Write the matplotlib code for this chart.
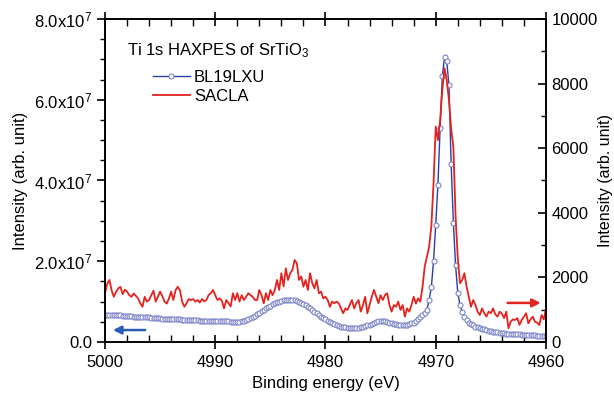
import matplotlib
matplotlib.use("Agg")
import matplotlib.pyplot as plt
from matplotlib.ticker import MultipleLocator, FuncFormatter
import numpy as np

plt.rcParams["font.family"] = ["Liberation Sans", "DejaVu Sans"]
plt.rcParams["mathtext.default"] = "regular"

# binding energy grid, 5000 -> 4960 eV in 0.2 eV steps
energy = np.linspace(5000, 4960, 201)

# BL19LXU intensity (x1e7, left axis)
bl19 = [
    0.68, 0.68, 0.67, 0.67, 0.67, 0.66, 0.66, 0.66, 0.65, 0.65,
    0.65, 0.64, 0.64, 0.63, 0.63, 0.63, 0.62, 0.62, 0.62, 0.61,
    0.61, 0.60, 0.60, 0.60, 0.59, 0.59, 0.58, 0.58, 0.58, 0.57,
    0.57, 0.57, 0.56, 0.56, 0.56, 0.55, 0.55, 0.55, 0.55, 0.54,
    0.54, 0.54, 0.54, 0.53, 0.53, 0.53, 0.53, 0.53, 0.52, 0.52,
    0.52, 0.52, 0.52, 0.51, 0.51, 0.51, 0.51, 0.50, 0.50, 0.50,
    0.50, 0.50, 0.51, 0.52, 0.54, 0.56, 0.59, 0.62, 0.65, 0.69,
    0.72, 0.76, 0.80, 0.83, 0.87, 0.90, 0.93, 0.96, 0.98, 1.00,
    1.02, 1.03, 1.04, 1.05, 1.05, 1.04, 1.03, 1.02, 1.00, 0.97,
    0.94, 0.91, 0.87, 0.83, 0.79, 0.75, 0.71, 0.67, 0.63, 0.60,
    0.56, 0.53, 0.50, 0.47, 0.44, 0.42, 0.40, 0.38, 0.37, 0.36,
    0.35, 0.34, 0.34, 0.34, 0.34, 0.35, 0.36, 0.37, 0.39, 0.41,
    0.43, 0.45, 0.47, 0.49, 0.51, 0.52, 0.52, 0.51, 0.50, 0.48,
    0.47, 0.45, 0.44, 0.43, 0.42, 0.42, 0.42, 0.43, 0.44, 0.46,
    0.48, 0.52, 0.56, 0.61, 0.66, 0.72, 0.80, 1.04, 1.35, 2.00,
    2.90, 3.90, 5.30, 6.60, 7.05, 6.95, 6.36, 4.40, 2.95, 1.90,
    1.22, 0.92, 0.74, 0.62, 0.54, 0.48, 0.44, 0.41, 0.38, 0.36,
    0.34, 0.32, 0.31, 0.29, 0.28, 0.27, 0.26, 0.25, 0.24, 0.23,
    0.22, 0.22, 0.21, 0.21, 0.20, 0.20, 0.19, 0.19, 0.19, 0.18,
    0.18, 0.18, 0.17, 0.17, 0.17, 0.17, 0.16, 0.16, 0.16, 0.16,
    0.16,
]

# SACLA intensity (right axis)
sacla = [
    1500, 1800, 1920, 1600, 1400, 1550, 1660, 1710, 1480, 1620,
    1560, 1450, 1400, 1500, 1430, 1350, 1200, 1090, 1400, 1250,
    1300, 1450, 1590, 1250, 1400, 1560, 1420, 1250, 1190, 1350,
    1560, 1300, 1600, 1710, 1600, 1250, 1090, 1200, 1330, 1300,
    1330, 1250, 1300, 1220, 1330, 1260, 1300, 1455, 1510, 1610,
    1450, 1300, 1350, 1280, 1040, 1300, 1200, 1100, 1510, 1300,
    1510, 1250, 1450, 1300, 1400, 1510, 1450, 1400, 1300, 1300,
    1610, 1450, 1200, 1510, 1300, 1610, 1450, 1600, 1920, 1610,
    2130, 1720, 2280, 1920, 2130, 2230, 2540, 2440, 1920, 2030,
    1710, 1920, 1610, 2130, 1820, 1660, 1920, 1510, 1560, 1350,
    1400, 1300, 1090, 1250, 1200, 1250, 1200, 1050, 890, 1040,
    990, 1150, 1300, 1040, 1200, 1300, 940, 1145, 1400, 890,
    1145, 1400, 1610, 1400, 1200, 1450, 1300, 1450, 1510, 1145,
    940, 1145, 1090, 1250, 990, 1145, 785, 1040, 940, 1145,
    1400, 1190, 1350, 1250, 1700, 2330, 2640, 2950, 3570, 4910,
    6670, 6250, 6870, 7800, 8470, 8110, 7490, 6600, 6050, 3880,
    2600, 1820, 1920, 2130, 1710, 1400, 1090, 1300, 1145, 940,
    835, 1040, 900, 785, 940, 890, 1040, 860, 785, 940,
    880, 740, 940, 425, 630, 700, 680, 740, 530, 680,
    780, 890, 580, 700, 785, 630, 600, 525, 835, 700,
    1040,
]

fs = 12
fig = plt.figure(figsize=(6.14, 3.98), dpi=100)
ax = fig.add_axes([0.171, 0.1407, 0.7182, 0.8116])
ax2 = ax.twinx()

l1, = ax.plot(energy, np.array(bl19) * 1e7, color="#2b3fa6", lw=1.0,
              marker="o", ms=3.6, mfc="white", mec="#7c84c8", mew=0.8)
l2, = ax2.plot(energy, sacla, color="#e3231f", lw=1.3)

ax.set_xlim(5000, 4960)
ax.set_ylim(0, 8e7)
ax2.set_ylim(0, 10000)

ax.xaxis.set_major_locator(MultipleLocator(10))
ax.xaxis.set_minor_locator(MultipleLocator(2))
ax.yaxis.set_major_locator(MultipleLocator(2e7))
ax.yaxis.set_minor_locator(MultipleLocator(0.5e7))
ax2.yaxis.set_major_locator(MultipleLocator(2000))
ax2.yaxis.set_minor_locator(MultipleLocator(1000))


def sci(v, pos):
    if v == 0:
        return "0.0"
    return f"{v / 1e7:.1f}x10$^{{7}}$"


ax.yaxis.set_major_formatter(FuncFormatter(sci))

ax.tick_params(axis="x", which="major", direction="inout", length=10, width=1.2,
               top=True, labelsize=fs, pad=4)
ax.tick_params(axis="x", which="minor", direction="in", length=5, width=1.0, top=True)
ax.tick_params(axis="y", which="major", direction="out", length=6, width=1.2,
               right=False, labelsize=fs, pad=3)
ax.tick_params(axis="y", which="minor", direction="out", length=3.5, width=1.0, right=False)
ax2.tick_params(axis="y", which="major", direction="in", length=6, width=1.2,
                labelsize=fs, pad=4)
ax2.tick_params(axis="y", which="minor", direction="in", length=3.5, width=1.0)

for a in (ax, ax2):
    for s in a.spines.values():
        s.set_linewidth(1.2)

ax.set_xlabel("Binding energy (eV)", fontsize=fs, labelpad=5)
ax.set_ylabel("Intensity (arb. unit)", fontsize=fs, labelpad=5)
ax2.set_ylabel("Intensity (arb. unit)", fontsize=11.5, labelpad=0.5)

ax2.text(0.05, 0.901, "Ti 1s HAXPES of SrTiO$_3$", transform=ax.transAxes,
         fontsize=fs, va="center", ha="left")
ax2.legend([l1, l2], ["BL19LXU", "SACLA"], loc="upper left",
           bbox_to_anchor=(0.109, 0.842), frameon=False, fontsize=fs,
           borderpad=0, borderaxespad=0, handlelength=2.2, handletextpad=0.25,
           labelspacing=0.25, numpoints=1)

ax.annotate("", xy=(0.018, 0.037), xytext=(0.091, 0.037), xycoords="axes fraction",
            arrowprops=dict(arrowstyle="-|>", color="#2a5cb4", lw=1.8, mutation_scale=12,
                            shrinkA=0, shrinkB=0))
ax2.annotate("", xy=(0.988, 0.121), xytext=(0.913, 0.121), xycoords="axes fraction",
             arrowprops=dict(arrowstyle="-|>", color="#e3231f", lw=1.8, mutation_scale=12,
                             shrinkA=0, shrinkB=0))

fig.savefig("out.png", dpi=100)
